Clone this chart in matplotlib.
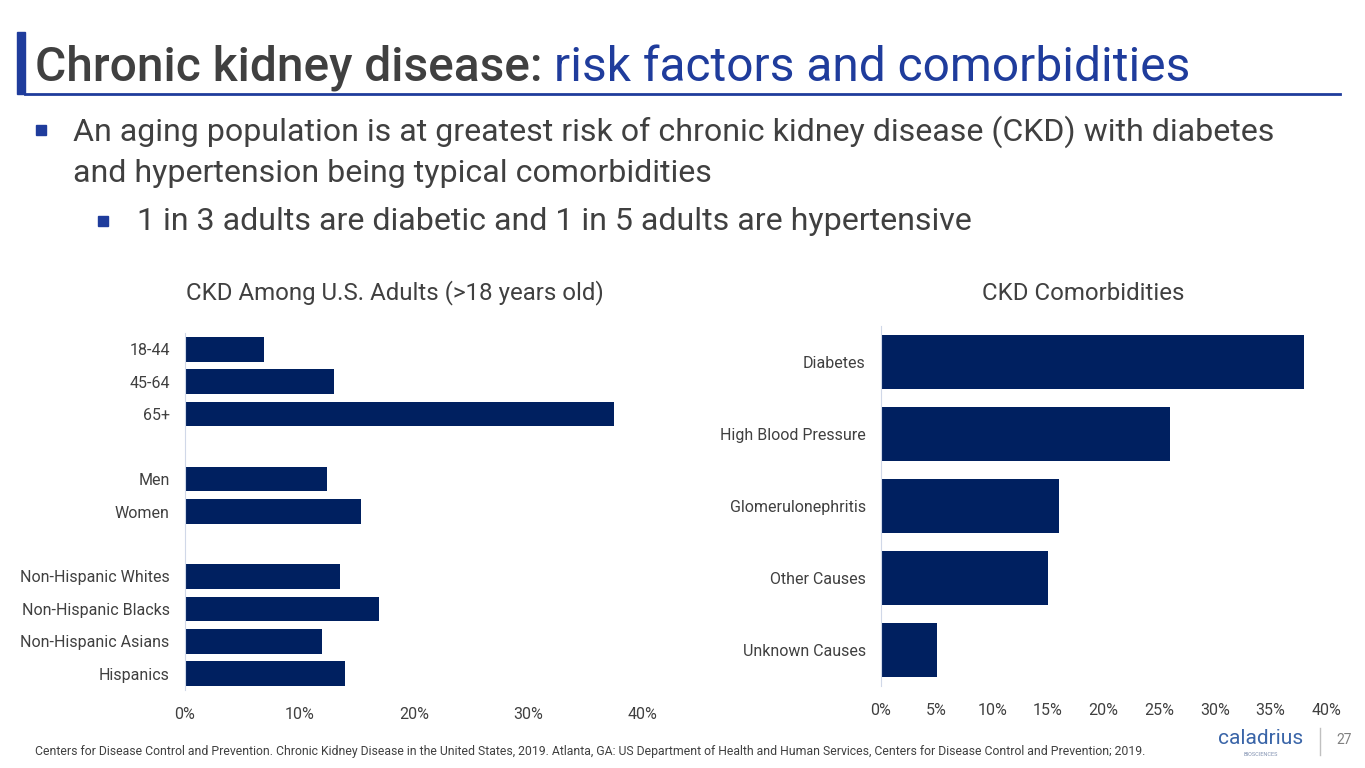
import matplotlib
matplotlib.use("Agg")
import matplotlib.pyplot as plt
from matplotlib.ticker import FuncFormatter
from matplotlib.patches import Rectangle

plt.rcParams['font.family'] = ['Roboto', 'DejaVu Sans']

# left chart data (blank labels are spacer rows)
age_labels = ['18-44', '45-64', '65+', '', 'Men', 'Women', '',
              'Non-Hispanic Whites', 'Non-Hispanic Blacks', 'Non-Hispanic Asians', 'Hispanics']
age_values = [6.9, 13.0, 37.5, 0, 12.4, 15.4, 0, 13.5, 16.9, 12.0, 14.0]

# right chart data
comorb_labels = ['Diabetes', 'High Blood Pressure', 'Glomerulonephritis', 'Other Causes', 'Unknown Causes']
comorb_values = [38, 26, 16, 15, 5]

W, H = 1365, 768
NAVY = '#002060'
GREY = '#404040'
BLUE = '#1F3C9C'

fig = plt.figure(figsize=(W / 100, H / 100), dpi=100)


def px_axes(x0, y0, x1, y1):
    return fig.add_axes([x0 / W, 1 - y1 / H, (x1 - x0) / W, (y1 - y0) / H])


def pct(v, pos):
    return '%d%%' % v


def style(ax, xmax, step):
    ax.set_xlim(0, xmax)
    ax.set_xticks(range(0, xmax + 1, step))
    ax.xaxis.set_major_formatter(FuncFormatter(pct))
    for s in ['top', 'right', 'bottom']:
        ax.spines[s].set_visible(False)
    ax.spines['left'].set_color('#D0D8E8')
    ax.tick_params(length=0, labelsize=11.5, colors=GREY)
    ax.tick_params(axis='x', pad=12)
    ax.tick_params(axis='y', pad=11)


# left bar chart
ax1 = px_axes(185, 333, 643, 690)
ax1.barh(range(len(age_labels)), age_values, height=0.76, color=NAVY)
ax1.set_yticks(range(len(age_labels)))
ax1.set_yticklabels(age_labels)
ax1.set_ylim(len(age_labels) - 0.5, -0.5)
style(ax1, 40, 10)
fig.text(395 / W, 1 - 293 / H, 'CKD Among U.S. Adults (>18 years old)', ha='center', va='center',
         fontsize=17.3, color=GREY)

# right bar chart
ax2 = px_axes(881, 326, 1326, 686)
ax2.barh(range(len(comorb_labels)), comorb_values, height=0.76, color=NAVY)
ax2.set_yticks(range(len(comorb_labels)))
ax2.set_yticklabels(comorb_labels)
ax2.set_ylim(len(comorb_labels) - 0.5, -0.5)
style(ax2, 40, 5)
fig.text(1083 / W, 1 - 293 / H, 'CKD Comorbidities', ha='center', va='center',
         fontsize=17.3, color=GREY)

# slide title
fig.patches.append(Rectangle((17 / W, 1 - 94 / H), 8 / W, 62 / H, transform=fig.transFigure,
                             color=BLUE, zorder=3))
fig.add_artist(plt.Line2D([25 / W, 1340 / W], [1 - 94 / H, 1 - 94 / H], color=BLUE, lw=2))
t = fig.text(35 / W, 1 - 68 / H, 'Chronic kidney disease: ', fontsize=34.5, color=GREY,
             va='center', ha='left', fontweight='medium')
fig.canvas.draw()
bb = t.get_window_extent()
fig.text(bb.x1 / W, 1 - 68 / H, 'risk factors and comorbidities', fontsize=34.5, color=BLUE,
         va='center', ha='left')

# bullets
fig.patches.append(Rectangle((36 / W, 1 - 135 / H), 10 / W, 10 / H, transform=fig.transFigure,
                             color=BLUE))
fig.text(73 / W, 1 - 132 / H, 'An aging population is at greatest risk of chronic kidney disease (CKD) with diabetes',
         fontsize=23.1, color=GREY, va='center')
fig.text(73 / W, 1 - 173 / H, 'and hypertension being typical comorbidities',
         fontsize=23.1, color=GREY, va='center')
fig.patches.append(Rectangle((98 / W, 1 - 226 / H), 10 / W, 10 / H, transform=fig.transFigure,
                             color=BLUE))
fig.text(137 / W, 1 - 222 / H, '1 in 3 adults are diabetic and 1 in 5 adults are hypertensive',
         fontsize=23.1, color=GREY, va='center')

# footer
fig.text(35 / W, 1 - 752 / H,
         'Centers for Disease Control and Prevention. Chronic Kidney Disease in the United States, 2019. '
         'Atlanta, GA: US Department of Health and Human Services, Centers for Disease Control and Prevention; 2019.',
         fontsize=8.8, color=GREY, va='center')
fig.text(1261 / W, 1 - 739 / H, 'caladrius', fontsize=15, color='#3A65A8', ha='center', va='center')
fig.text(1261 / W, 1 - 754 / H, 'BIOSCIENCES', fontsize=4, color='#8090B0', ha='center', va='center')
fig.add_artist(plt.Line2D([1320 / W, 1320 / W], [1 - 755 / H, 1 - 728 / H], color='#C0C0C0', lw=1))
fig.text(1336 / W, 1 - 740 / H, '27', fontsize=10, color='#808080', ha='left', va='center')

fig.savefig('out.png', dpi=100)
